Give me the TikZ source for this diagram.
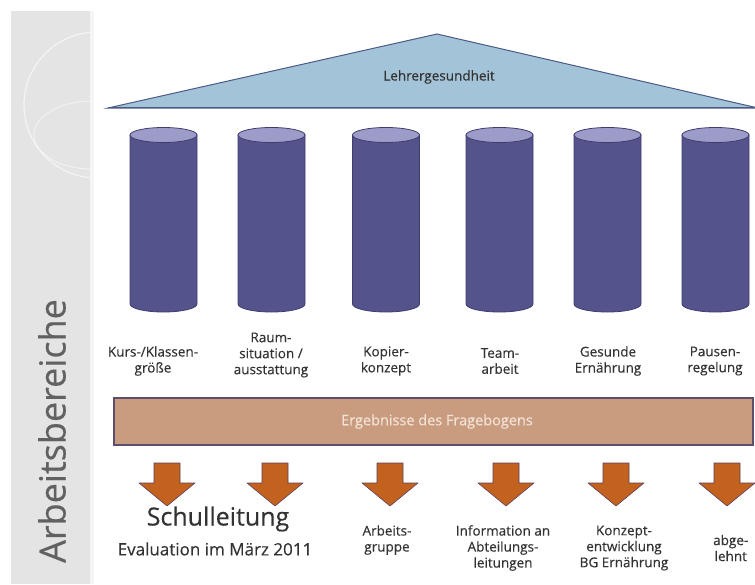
\documentclass[tikz,border=0pt]{standalone}
\usepackage{fontspec}
\setmainfont{Open Sans}[FakeBold=0.35]
\definecolor{band}{HTML}{E4E4E4}
\definecolor{colbody}{HTML}{55538C}
\definecolor{coltop}{HTML}{9D9BC7}
\definecolor{colline}{HTML}{3F3D6E}
\definecolor{rooffill}{HTML}{A3C3D9}
\definecolor{roofline}{HTML}{4B5B85}
\definecolor{barfill}{HTML}{C99C80}
\definecolor{barline}{HTML}{5D4E6E}
\definecolor{bartext}{HTML}{F3E2D6}
\definecolor{arrfill}{HTML}{C3621F}
\definecolor{arrline}{HTML}{5A4060}
\definecolor{txt}{HTML}{333333}
\begin{document}
\begin{tikzpicture}[x=1pt,y=-1pt,
  lbl/.style={font=\fontsize{13.5}{16}\selectfont, text=txt, align=center, inner sep=0pt},
  pillar/.style={fill=colbody, draw=colline, line width=0.8pt},
  pillartop/.style={fill=coltop, draw=colline, line width=0.8pt},
  downarrow/.style={fill=arrfill, draw=arrline, line width=0.6pt, line join=round}]
\useasboundingbox (0,0) rectangle (755,584);
\clip (0,0) rectangle (755,584);
\fill[white] (0,0) rectangle (755,584);
% grey band with faint decorative logo
\fill[band] (11,11) rectangle (94,584);
\fill[black!4] (90,11) rectangle (94,584);
\begin{scope}
\clip (11,11) rectangle (90,584);
\draw[white, line width=1.2pt, opacity=0.6] (97,105) circle [radius=73];
\draw[white, line width=1pt, opacity=0.5] (92,135) ellipse [x radius=58, y radius=34];
\end{scope}
\node[rotate=90, font=\fontsize{36}{40}\selectfont, text=black!62, inner sep=0pt] (area) at (52,431) {Arbeitsbereiche};
% roof
\filldraw[fill=rooffill, draw=roofline, line width=1pt, line join=miter] (108,108) -- (437,34) -- (758,108) -- cycle;
\draw[roofline, line width=1.6pt] (108,107.5) -- (758,107.5);
\node[lbl, font=\fontsize{13.5}{15}\selectfont] (roof) at (439,77) {Lehrergesundheit};
% pillars
\foreach \cx/\nm in {163.5/p1, 271.5/p2, 386/p3, 499.5/p4, 607.5/p5, 715.5/p6}{
  \filldraw[pillar] (\cx-33.5,135) -- (\cx-33.5,304) arc[start angle=180, end angle=0, x radius=33.5, y radius=8] -- (\cx+33.5,135) -- cycle;
  \filldraw[pillartop] (\cx,135) ellipse [x radius=33.5, y radius=7.5];
}
% pillar labels
\node[lbl] (l1) at (153,361) {Kurs-/Klassen-\\größe};
\node[lbl] (l2) at (271,355) {Raum-\\situation /\\ausstattung};
\node[lbl] (l3) at (386,361) {Kopier-\\konzept};
\node[lbl] (l4) at (500,361) {Team-\\arbeit};
\node[lbl] (l5) at (608,361) {Gesunde\\Ernährung};
\node[lbl] (l6) at (715,361) {Pausen-\\regelung};
% result bar
\filldraw[fill=barfill, draw=barline, line width=1.2pt] (114,398) rectangle (753,445);
\node[lbl, text=bartext, font=\fontsize{14.5}{16}\selectfont] (bar) at (437,421.5) {Ergebnisse des Fragebogens};
% arrows
\foreach \ax/\nm in {167/a1, 275/a2, 390/a3, 506/a4, 616/a5, 727/a6}{
  \filldraw[downarrow] (\ax-13,463) -- (\ax+13,463) -- (\ax+13,483) -- (\ax+28,483) -- (\ax,506) -- (\ax-28,483) -- (\ax-13,483) -- cycle;
}
% outcome labels
\node[lbl, font=\fontsize{25}{28}\selectfont] (o1) at (218,519) {Schulleitung};
\node[lbl, font=\fontsize{17}{20}\selectfont] (o1b) at (215,549) {Evaluation im März 2011};
\node[lbl] (o3) at (387,540) {Arbeits-\\gruppe};
\node[lbl] (o4) at (503,548) {Information an\\Abteilungs-\\leitungen};
\node[lbl] (o5) at (624,548) {Konzept-\\entwicklung\\BG Ernährung};
\node[lbl, anchor=west] (o6) at (713,548) {abge-\\lehnt};
\end{tikzpicture}
\end{document}
